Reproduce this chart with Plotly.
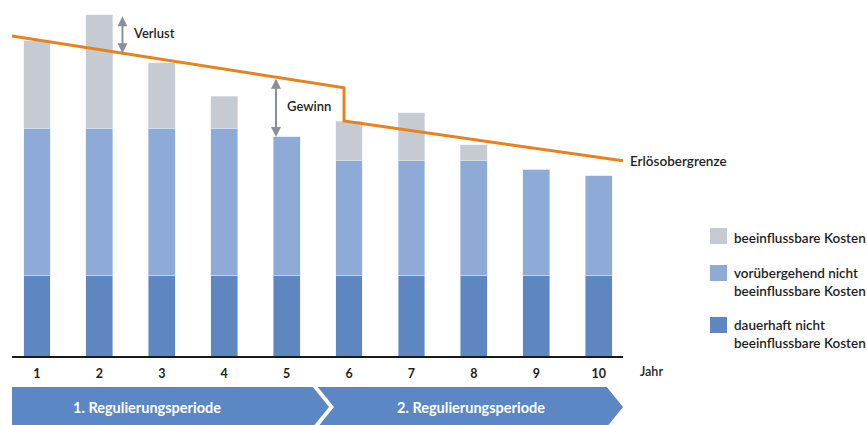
import numpy as np
import plotly.graph_objects as go

# Years of the two regulation periods
years = [1, 2, 3, 4, 5, 6, 7, 8, 9, 10]
year_labels = ["1", "2", "3", "4", "5", "6", "7", "8", "9", "10"]

# Cost components per year (stacked)
dauerhaft = [23.4, 23.4, 23.4, 23.4, 23.4, 23.4, 23.4, 23.4, 23.4, 23.4]
voruebergehend = [42.4, 42.4, 42.4, 42.4, 39.9, 33.0, 33.0, 33.0, 30.6, 28.7]
beeinflussbar = [25.3, 32.8, 18.9, 9.3, 0.0, 11.5, 13.9, 4.6, 0.0, 0.0]

# Revenue cap (Erlösobergrenze), stepping down at the start of period 2
cap_x = [0.6, 5.92, 5.92, 10.39]
cap_y = [92.5, 77.5, 67.9, 56.4]

# Period labels
periods = ["1. Regulierungsperiode", "2. Regulierungsperiode"]

C_GRAY = "#c6cbd3"
C_LIGHT = "#8eaad6"
C_DARK = "#5e87c2"
C_BAND = "#5b87c4"
C_ORANGE = "#e8821e"
C_ARROW = "#8a9099"
C_TEXT = "#1e1e1e"
FONT = "Lato"

X0, X1 = 0.6, 10.39

fig = go.Figure()
fig.add_trace(go.Bar(x=years, y=dauerhaft, marker_color=C_DARK, width=0.43,
                     name="dauerhaft nicht beeinflussbare Kosten"))
fig.add_trace(go.Bar(x=years, y=voruebergehend, marker_color=C_LIGHT, width=0.43,
                     name="vorübergehend nicht beeinflussbare Kosten"))
fig.add_trace(go.Bar(x=years, y=beeinflussbar, marker_color=C_GRAY, width=0.43,
                     name="beeinflussbare Kosten"))
fig.add_trace(go.Scatter(x=cap_x, y=cap_y, mode="lines",
                         line=dict(color=C_ORANGE, width=3), name="Erlösobergrenze"))

totals = np.array(dauerhaft) + np.array(voruebergehend) + np.array(beeinflussbar)


def cap_at(x):
    # cap value on the first (period 1) segment
    return float(np.interp(x, cap_x[:2], cap_y[:2]))


def x_to_paper(x):
    return (x - X0) / (X1 - X0)


def double_arrow(x, y_top, y_bot):
    fig.add_annotation(x=x, y=y_bot, ax=x, ay=y_top, xref="x", yref="y",
                       axref="x", ayref="y", text="", showarrow=True,
                       arrowhead=2, startarrowhead=2, arrowside="end+start",
                       arrowsize=1, startarrowsize=1, arrowwidth=2,
                       arrowcolor=C_ARROW, standoff=0, startstandoff=0)


# Verlust: costs of year 2 above the cap
xv = 2.37
double_arrow(xv, totals[1], cap_at(xv))
fig.add_annotation(x=xv + 0.13, y=(totals[1] + cap_at(xv)) / 2 + 0.3, text="Verlust",
                   showarrow=False, xanchor="left", yanchor="middle",
                   font=dict(family=FONT, size=13, color=C_TEXT, weight=600))

# Gewinn: cap above the costs of year 5
xg = 4.83
double_arrow(xg, cap_at(xg), totals[4])
fig.add_annotation(x=xg + 0.14, y=(cap_at(xg) + totals[4]) / 2 + 0.3, text="Gewinn",
                   showarrow=False, xanchor="left", yanchor="middle",
                   font=dict(family=FONT, size=13, color=C_TEXT, weight=600))

# Cap label at the end of the line
fig.add_annotation(x=x_to_paper(cap_x[-1]) + 0.008, y=cap_y[-1], xref="paper", yref="y",
                   text="Erlösobergrenze", showarrow=False, xanchor="left", yanchor="middle",
                   font=dict(family=FONT, size=13.5, color=C_TEXT, weight=600))

# Axis unit label
fig.add_annotation(x=x_to_paper(10.84), y=-0.046, xref="paper", yref="paper", text="Jahr",
                   showarrow=False, xanchor="center", yanchor="middle",
                   font=dict(family=FONT, size=12.5, color=C_TEXT, weight=600))

# Period chevrons below the axis
yt, ym, yb = -0.0896, -0.1474, -0.2052
b1_end, b1_tip = 5.42, 5.68
b2_start, b2_in, b2_end, b2_tip = 5.50, 5.76, 10.13, 10.39
fig.add_shape(type="path", xref="x", yref="paper", fillcolor=C_BAND, line_width=0,
              path=f"M {X0} {yt} L {b1_end} {yt} L {b1_tip} {ym} L {b1_end} {yb} L {X0} {yb} Z")
fig.add_shape(type="path", xref="x", yref="paper", fillcolor=C_BAND, line_width=0,
              path=(f"M {b2_start} {yt} L {b2_end} {yt} L {b2_tip} {ym} L {b2_end} {yb} "
                    f"L {b2_start} {yb} L {b2_in} {ym} Z"))
for label, xc in zip(periods, [2.76, 7.95]):
    fig.add_annotation(x=x_to_paper(xc), y=ym, xref="paper", yref="paper", text=label,
                       showarrow=False, xanchor="center", yanchor="middle",
                       font=dict(family=FONT, size=14.5, color="white", weight=700))

# Legend drawn beside the plot
legend_items = [
    (C_GRAY, "beeinflussbare Kosten", 0.3699, 0.3237, 0.3410),
    (C_LIGHT, "vorübergehend nicht<br>beeinflussbare Kosten", 0.2630, 0.2168, 0.2140),
    (C_DARK, "dauerhaft nicht<br>beeinflussbare Kosten", 0.1127, 0.0665, 0.0650),
]
for color, text, y_top, y_bot, y_text in legend_items:
    fig.add_shape(type="rect", xref="paper", yref="paper", x0=1.1424, x1=1.1702,
                  y0=y_bot, y1=y_top, fillcolor=color, line_width=0)
    fig.add_annotation(x=1.1784, y=y_text, xref="paper", yref="paper", text=text,
                       showarrow=False, xanchor="left", yanchor="middle", align="left",
                       font=dict(family=FONT, size=13.5, color=C_TEXT, weight=600))

fig.update_layout(
    width=867, height=425,
    margin=dict(l=12, r=244, t=10, b=69),
    barmode="stack", showlegend=False,
    paper_bgcolor="white", plot_bgcolor="white",
    font=dict(family=FONT, color=C_TEXT),
    xaxis=dict(range=[X0, X1], tickvals=years, ticktext=year_labels,
               showgrid=False, zeroline=False, showline=True, linecolor="#1a1a1a",
               linewidth=1.5, ticks="", ticklabelstandoff=5,
               tickfont=dict(family=FONT, size=12.5, color=C_TEXT, weight=700)),
    yaxis=dict(range=[0, 100], visible=False),
)

fig.write_html("out.html")
